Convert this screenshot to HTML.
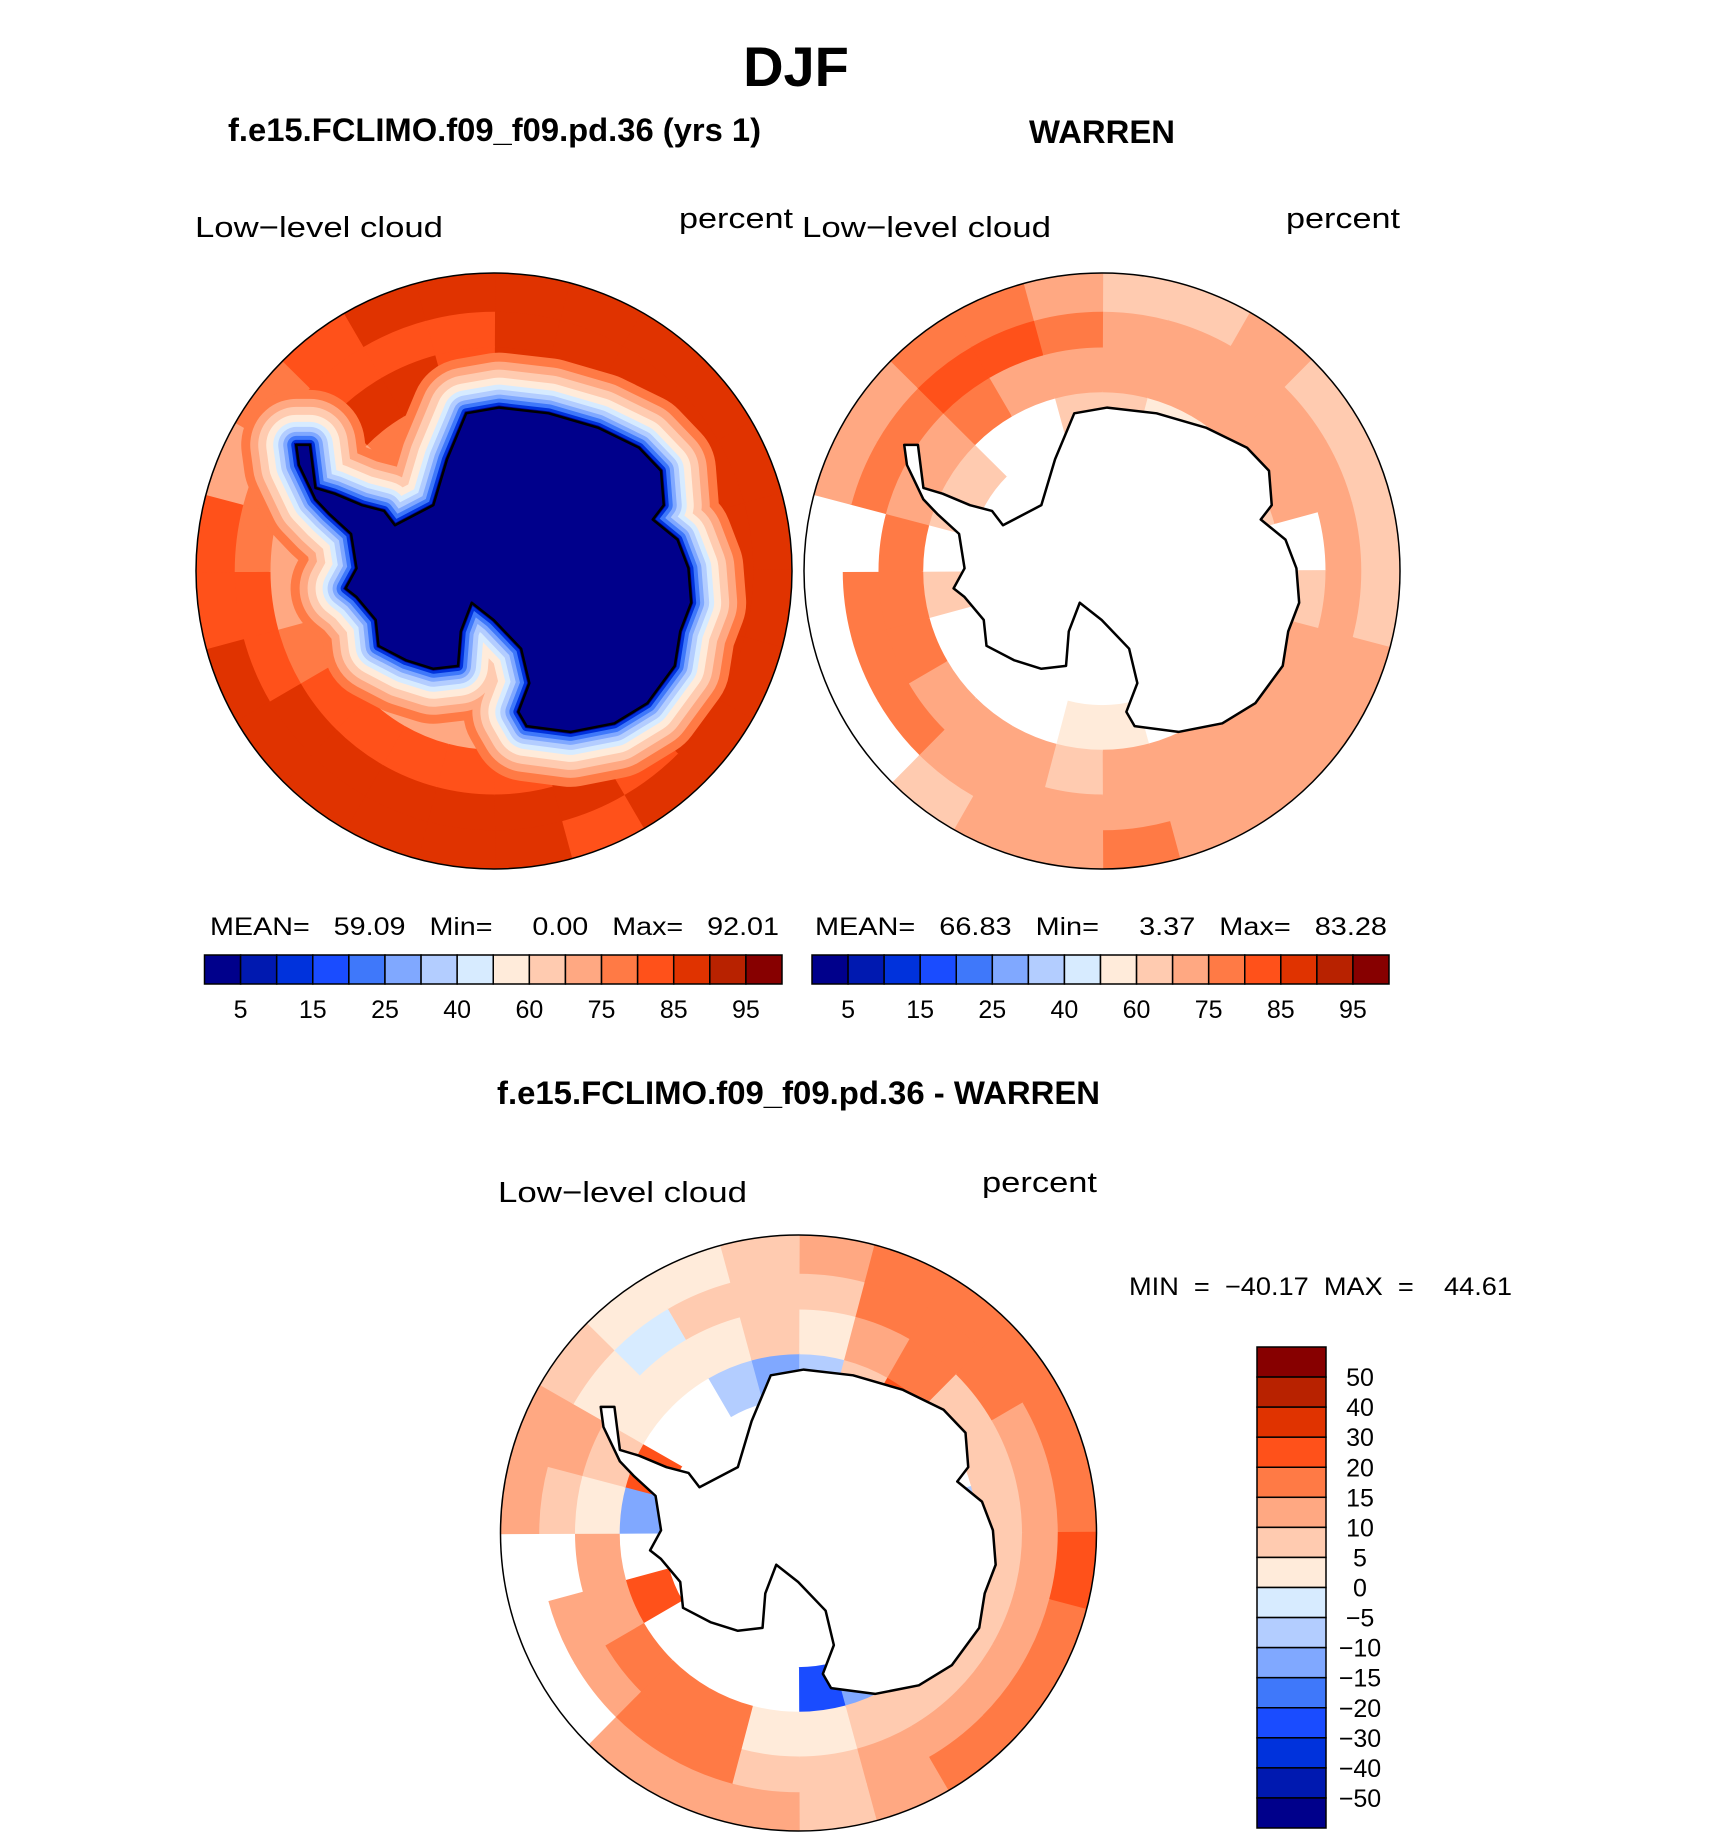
<!DOCTYPE html>
<html><head><meta charset="utf-8"><style>
html,body{margin:0;padding:0;background:#fff;}
svg{display:block;}
text{font-family:"Liberation Sans",sans-serif;}
</style></head><body>
<svg id="fig" width="1710" height="1839" viewBox="0 0 1710 1839" xmlns="http://www.w3.org/2000/svg">
<text x="796" y="86" font-size="56" font-weight="bold" text-anchor="middle">DJF</text>
<text x="228" y="141" font-size="32" font-weight="bold" textLength="533" lengthAdjust="spacingAndGlyphs">f.e15.FCLIMO.f09_f09.pd.36 (yrs 1)</text>
<text x="1029" y="143" font-size="32" font-weight="bold" textLength="146" lengthAdjust="spacingAndGlyphs">WARREN</text>
<text x="497" y="1104" font-size="32" font-weight="bold" textLength="603" lengthAdjust="spacingAndGlyphs">f.e15.FCLIMO.f09_f09.pd.36 - WARREN</text>
<text x="195" y="237" font-size="29" textLength="248" lengthAdjust="spacingAndGlyphs">Low−level cloud</text>
<text x="679" y="228" font-size="29" textLength="114" lengthAdjust="spacingAndGlyphs">percent</text>
<text x="802" y="237" font-size="29" textLength="249" lengthAdjust="spacingAndGlyphs">Low−level cloud</text>
<text x="1286" y="228" font-size="29" textLength="114" lengthAdjust="spacingAndGlyphs">percent</text>
<text x="498" y="1202" font-size="29" textLength="249" lengthAdjust="spacingAndGlyphs">Low−level cloud</text>
<text x="982" y="1192" font-size="29" textLength="115" lengthAdjust="spacingAndGlyphs">percent</text>
<text x="210" y="935" font-size="25" textLength="569" lengthAdjust="spacingAndGlyphs" xml:space="preserve">MEAN=   59.09   Min=     0.00   Max=   92.01</text>
<text x="815" y="935" font-size="25" textLength="572" lengthAdjust="spacingAndGlyphs" xml:space="preserve">MEAN=   66.83   Min=     3.37   Max=   83.28</text>
<text x="1129" y="1295" font-size="25" textLength="383" lengthAdjust="spacingAndGlyphs" xml:space="preserve">MIN  =  −40.17  MAX  =    44.61</text>
<g id="maps"></g>
<g id="bars"></g>
</svg>
<script>
// ---- colour scale ----
const colors = ["#00008b","#0019b0","#0032dc","#1a4cff","#3f78fa","#80a8ff","#b3cdff","#d7ebff","#ffebda","#ffcbb0","#ffa882","#ff7a45","#ff511a","#e03300","#b82200","#870000"];
const levelsAbs = [5,10,15,20,25,30,40,50,60,70,75,80,85,90,95];
const levelsDiff = [-50,-40,-30,-20,-15,-10,-5,0,5,10,15,20,30,40,50];
const absTickLabels = ["5","15","25","40","60","75","85","95"];
const diffTickLabels = ["50","40","30","20","15","10","5","0","−5","−10","−15","−20","−30","−40","−50"];
// ring edges (fraction of map radius)
const ringEdges = [0.45,0.6,0.75,0.87,1.0];
// per 15° sector (clockwise from top), values per ring
const map1Values = [
[80,86,87,87],[80,87,87,87],[80,86,87,87],[80,84,87,87],[80,84,87,87],[78,83,87,87],
[78,83,87,87],[78,84,87,87],[80,86,87,87],[80,86,83,87],[78,86,87,83],[75,84,88,87],
[72,84,88,87],[70,82,88,86],[70,82,87,87],[68,80,87,87],[62,76,83,87],[60,74,83,82],
[55,70,78,83],[62,72,76,72],[70,78,83,76],[76,86,83,82],[78,86,83,87],[80,84,83,86]];
const map2Values = [
[62,70,72,65],[55,70,72,65],[58,72,72,72],[null,70,72,68],[62,70,72,68],[null,null,72,68],
[null,66,72,68],[null,72,72,72],[null,72,72,72],[null,72,72,72],[null,72,72,72],[55,72,72,77],
[55,66,72,72],[null,72,72,72],[null,72,72,62],[null,72,77,null],[null,77,77,null],[62,77,77,null],
[null,77,null,null],[60,72,77,72],[68,72,77,72],[null,77,82,77],[null,72,82,77],[62,72,77,72]];
const map3Values = [
[-8,3,7,10],[5,12,17,17],[20,15,17,17],[null,8,17,17],[null,5,12,17],[-10,8,12,17],
[null,5,12,22],[null,5,12,17],[null,7,12,17],[null,7,12,17],[-15,7,10,12],[-25,3,8,7],
[null,3,8,12],[null,15,17,12],[null,17,17,12],[null,17,12,null],[22,12,12,null],[null,12,null,null],
[-12,3,7,12],[20,5,12,12],[null,3,3,7],[null,3,-3,3],[-8,3,7,3],[-15,7,7,7]];
const innerValues = [45,null,null];
// Antarctic coastline (traced in a 1.823 x 1.742 scaled view of panel 1)
const coastRaw = [[540,775],[565,775],[575,850],[610,860],[660,880],[700,890],[720,915],[790,880],[815,800],[850,720],[910,710],[1000,720],[1090,745],[1165,780],[1205,820],[1210,880],[1190,905],[1235,940],[1255,990],[1260,1050],[1240,1100],[1230,1160],[1180,1225],[1120,1260],[1040,1275],[960,1265],[945,1240],[965,1190],[950,1130],[900,1080],[860,1050],[840,1100],[835,1160],[790,1165],[740,1150],[690,1125],[685,1080],[650,1040],[630,1025],[650,990],[640,930],[600,895],[575,870],[545,810]];

const NS="http://www.w3.org/2000/svg";
function mk(tag,attrs,parent){const e=document.createElementNS(NS,tag);for(const k in attrs)e.setAttribute(k,attrs[k]);parent.appendChild(e);return e;}
function colorOf(v,levels){if(v===null)return "#ffffff";let i=0;while(i<levels.length&&v>=levels[i])i++;return colors[i];}
const coastNorm = coastRaw.map(p=>[(p[0]/1.823-494)/298,(p[1]/1.742-571)/298]);

const panels=[
 {cx:494,cy:571,r:298,vals:map1Values,inner:innerValues[0],levels:levelsAbs,land:"#00008b",halo:true,name:"model"},
 {cx:1102,cy:571,r:298,vals:map2Values,inner:innerValues[1],levels:levelsAbs,land:"#ffffff",halo:false,name:"warren"},
 {cx:798.5,cy:1533,r:298,vals:map3Values,inner:innerValues[2],levels:levelsDiff,land:"#ffffff",halo:false,name:"difference"}];
const maps=document.getElementById('maps');
panels.forEach((P,pi)=>{
  const g=mk('g',{},maps);
  
  
  const cid='clip'+pi;
  const cp=mk('clipPath',{id:cid},g);mk('circle',{cx:P.cx,cy:P.cy,r:P.r},cp);
  const gg=mk('g',{'clip-path':'url(#'+cid+')'},g);
  const inner=mk('circle',{cx:P.cx,cy:P.cy,r:P.r*ringEdges[0]+1,fill:colorOf(P.inner,P.levels)},gg);
  
  
  const n=P.vals.length, step=2*Math.PI/n;
  P.vals.forEach((row,si)=>{
    row.forEach((v,ri)=>{
      const r0=P.r*ringEdges[ri], r1=P.r*ringEdges[ri+1]+1.5;
      const a0=si*step-0.004, a1=(si+1)*step+0.004;
      const pt=(rr,a)=>[P.cx+rr*Math.sin(a),P.cy-rr*Math.cos(a)];
      const p1=pt(r0,a0),p2=pt(r1,a0),p3=pt(r1,a1),p4=pt(r0,a1);
      const d=`M${p1}L${p2}A${r1},${r1} 0 0 1 ${p3}L${p4}A${r0},${r0} 0 0 0 ${p1}Z`;
      const c=mk('path',{d:d,fill:colorOf(v,P.levels)},gg);
      
      
    });
  });
  const pts=coastNorm.map(q=>[P.cx+q[0]*P.r,P.cy+q[1]*P.r].join(',')).join(' ');
  if(P.halo){
    [[110,"#ff7a45"],[92,"#ffa882"],[76,"#ffcbb0"],[60,"#ffebda"],[46,"#d7ebff"],[36,"#b3cdff"],[26,"#80a8ff"],[18,"#3f78fa"],[10,"#0032dc"]].forEach(h=>{
      mk('polygon',{points:pts,fill:"none",stroke:h[1],'stroke-width':h[0],'stroke-linejoin':'round'},gg);
    });
  }
  const land=mk('polygon',{points:pts,fill:P.land,stroke:P.land,'stroke-width':P.halo?4:0},gg);
  
  
  const coast=mk('polygon',{points:pts,fill:"none",stroke:"#000",'stroke-width':2.5,'stroke-linejoin':'round'},g);
  
  
  const rim=mk('circle',{cx:P.cx,cy:P.cy,r:P.r,fill:"none",stroke:"#000",'stroke-width':1.5},g);
  
  
});

// ---- colour bars ----
const bars=document.getElementById('bars');
[[204.5,782,'panel1'],[812,1389,'panel2']].forEach(b=>{
  const g=mk('g',{},bars);
  
  
  const w=(b[1]-b[0])/colors.length;
  colors.forEach((c,i)=>{
    const r=mk('rect',{x:b[0]+i*w,y:955,width:w,height:29,fill:c,stroke:"#000",'stroke-width':1.5},g);
    
    
  });
  absTickLabels.forEach((t,k)=>{
    const tx=mk('text',{x:b[0]+(2*k+1)*w,y:1018,'font-size':25,'text-anchor':'middle'},g);
    tx.textContent=t;
    
    
  });
});
(function(){
  const g=mk('g',{},bars);
  
  
  const top=1347,h=(1828-1347)/colors.length;
  colors.slice().reverse().forEach((c,i)=>{
    const r=mk('rect',{x:1257,y:top+i*h,width:69,height:h,fill:c,stroke:"#000",'stroke-width':1.5},g);
    
    
  });
  diffTickLabels.forEach((t,k)=>{
    const tx=mk('text',{x:1360,y:top+(k+1)*h+9,'font-size':25,'text-anchor':'middle'},g);
    tx.textContent=t;
    
    
  });
})();
</script>
</body></html>
